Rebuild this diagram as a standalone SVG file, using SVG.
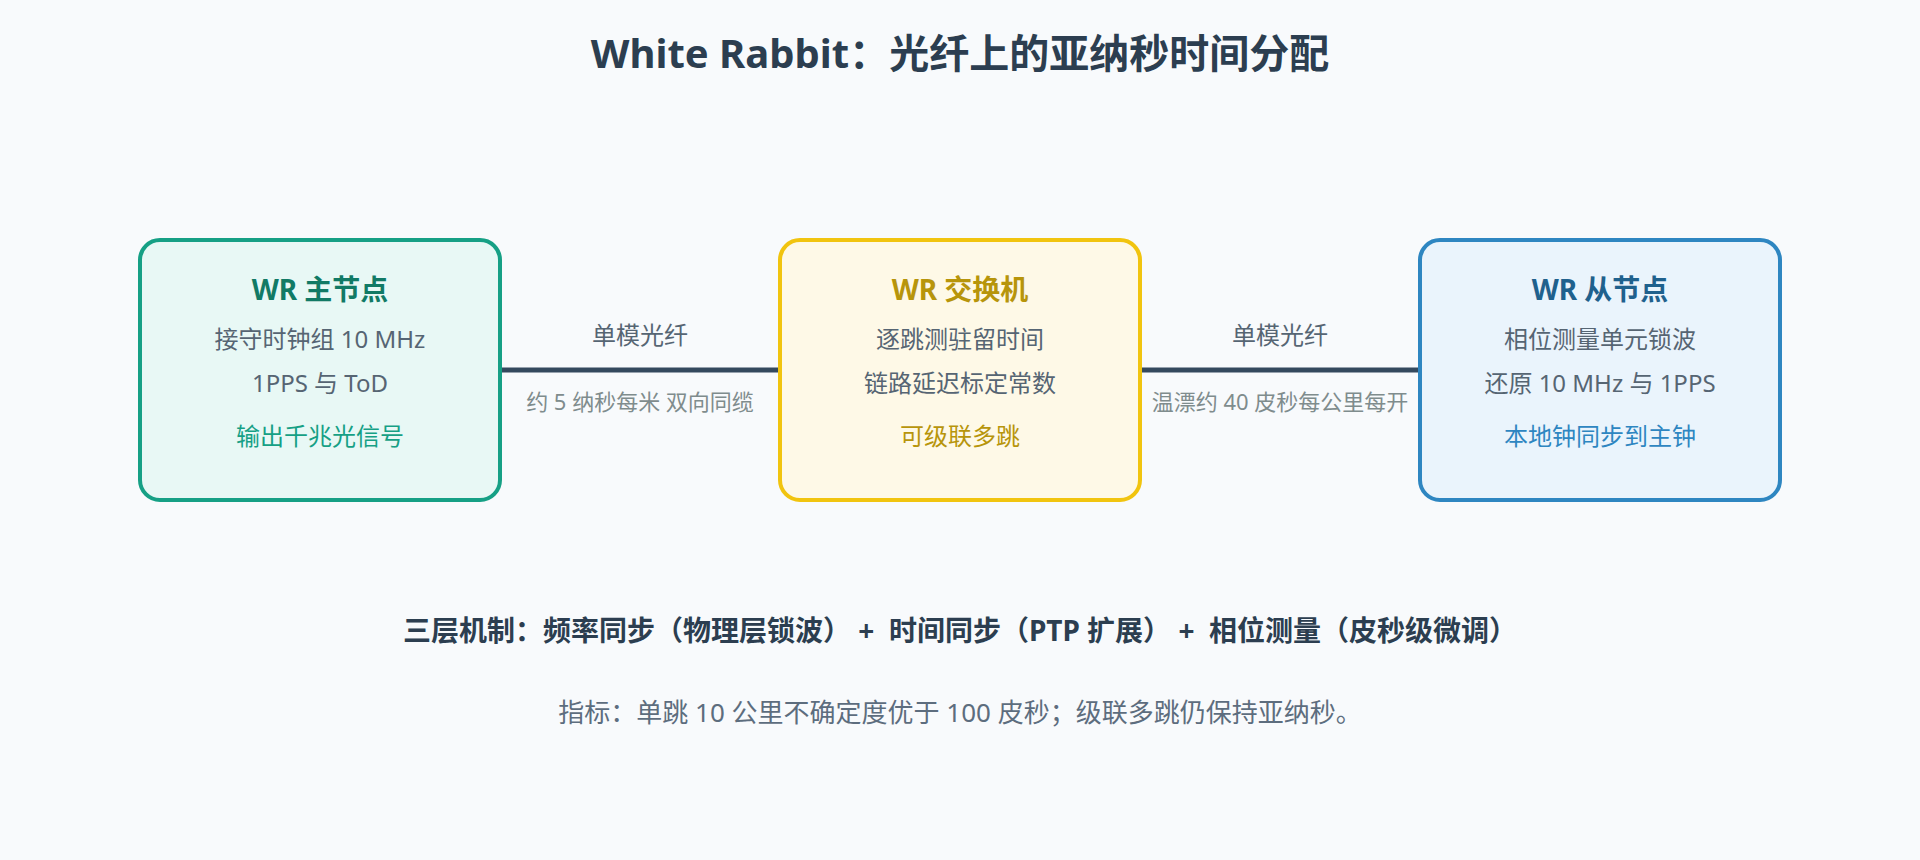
<svg xmlns="http://www.w3.org/2000/svg" width="1920" height="860" viewBox="0 0 1920 860">
  <style>
    text { font-family: "Noto Sans", "Noto Sans CJK SC", sans-serif; text-anchor: middle; }
    .title { font-size: 40px; font-weight: bold; fill: #2c3e50; }
    .ntitle { font-size: 28px; font-weight: bold; }
    .body { font-size: 24px; fill: #566573; }
    .note { font-size: 24px; }
    .box { stroke-width: 4; }
    .conn { stroke: #34495e; stroke-width: 5; fill: none; }
    .clabel { font-size: 24px; fill: #566573; }
    .csub { font-size: 22px; fill: #7f8c8d; }
    .mech { font-size: 28px; font-weight: bold; fill: #2c3e50; white-space: pre; }
    .metric { font-size: 26px; fill: #5d6d7e; }
  </style>
  <rect x="0" y="0" width="1920" height="860" fill="#f8fafc"/>
  <text class="title" x="960" y="68">White Rabbit：光纤上的亚纳秒时间分配</text>

  <g id="connectors">
    <line class="conn" x1="500" y1="370" x2="780" y2="370"/>
    <text class="clabel" x="640" y="344">单模光纤</text>
    <text class="csub" x="640" y="410">约 5 纳秒每米 双向同缆</text>
    <line class="conn" x1="1140" y1="370" x2="1420" y2="370"/>
    <text class="clabel" x="1280" y="344">单模光纤</text>
    <text class="csub" x="1280" y="410">温漂约 40 皮秒每公里每开</text>
  </g>

  <g id="master">
    <rect class="box" x="140" y="240" width="360" height="260" rx="20" fill="#e8f8f5" stroke="#16a085"/>
    <text class="ntitle" x="320" y="300" fill="#117a65">WR 主节点</text>
    <text class="body" x="320" y="348">接守时钟组 10 MHz</text>
    <text class="body" x="320" y="392">1PPS 与 ToD</text>
    <text class="note" x="320" y="445" fill="#16a085">输出千兆光信号</text>
  </g>

  <g id="switch">
    <rect class="box" x="780" y="240" width="360" height="260" rx="20" fill="#fef9e7" stroke="#f1c40f"/>
    <text class="ntitle" x="960" y="300" fill="#b7950b">WR 交换机</text>
    <text class="body" x="960" y="348">逐跳测驻留时间</text>
    <text class="body" x="960" y="392">链路延迟标定常数</text>
    <text class="note" x="960" y="445" fill="#b7950b">可级联多跳</text>
  </g>

  <g id="slave">
    <rect class="box" x="1420" y="240" width="360" height="260" rx="20" fill="#eaf4fc" stroke="#2e86c1"/>
    <text class="ntitle" x="1600" y="300" fill="#1f618d">WR 从节点</text>
    <text class="body" x="1600" y="348">相位测量单元锁波</text>
    <text class="body" x="1600" y="392">还原 10 MHz 与 1PPS</text>
    <text class="note" x="1600" y="445" fill="#2e86c1">本地钟同步到主钟</text>
  </g>

  <text class="mech" x="960" y="641" xml:space="preserve">三层机制：频率同步（物理层锁波） +  时间同步（PTP 扩展） +  相位测量（皮秒级微调）</text>
  <text class="metric" x="960" y="722">指标：单跳 10 公里不确定度优于 100 皮秒；级联多跳仍保持亚纳秒。</text>
</svg>
